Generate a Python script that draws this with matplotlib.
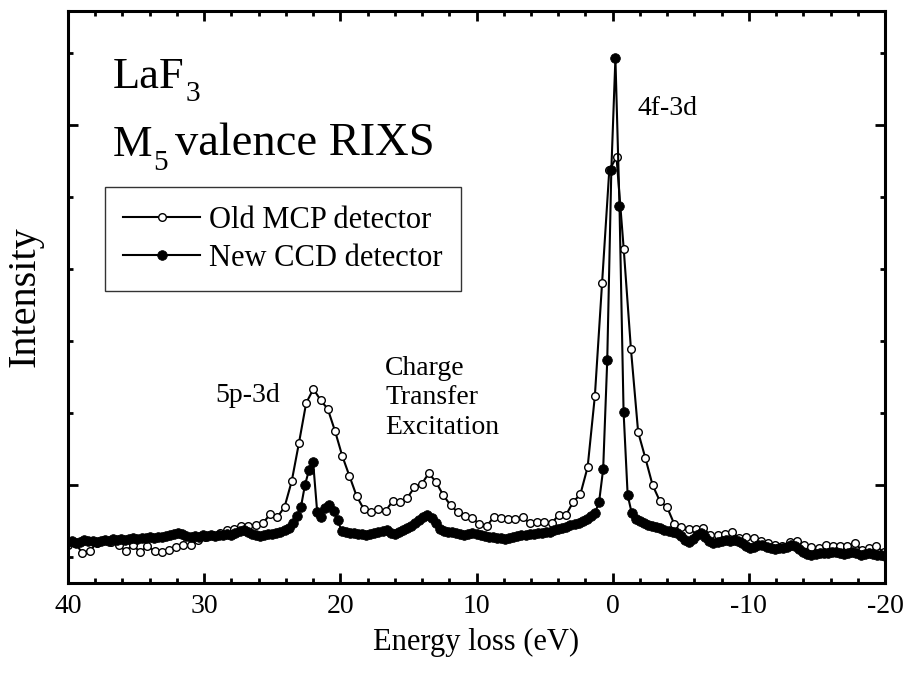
import numpy as np
import matplotlib
matplotlib.use("Agg")
import matplotlib.pyplot as plt
from matplotlib.ticker import MultipleLocator

plt.rcParams["font.family"] = ["Liberation Serif", "DejaVu Serif"]
plt.rcParams["axes.unicode_minus"] = False

# energy grids (eV), uniform steps of the two detectors
ccd_energy = np.round(40.0 - 0.3 * np.arange(201), 2)
mcp_energy = np.round(40.0 - 0.53 * np.arange(114), 2)

# new CCD detector, intensity (arb. units)
ccd_intensity = [
    842, 845, 840, 843, 847, 844, 846, 843, 845, 848,
    846, 849, 847, 850, 848, 851, 853, 850, 854, 852,
    855, 853, 857, 855, 858, 861, 864, 866, 863, 859,
    856, 858, 857, 860, 858, 861, 859, 862, 860, 863,
    861, 866, 872, 875, 869, 864, 861, 858, 861, 865,
    863, 867, 870, 874, 880, 894, 915, 938, 1000, 1042,
    1064, 925, 911, 936, 944, 928, 903, 872, 869, 867,
    866, 864, 863, 862, 864, 866, 869, 872, 875, 866,
    863, 870, 876, 881, 886, 894, 903, 911, 917, 908,
    894, 878, 872, 869, 870, 867, 864, 861, 864, 867,
    863, 861, 858, 856, 855, 853, 852, 851, 853, 856,
    858, 860, 861, 864, 864, 866, 867, 869, 870, 874,
    877, 881, 884, 889, 892, 894, 900, 906, 914, 922,
    953, 1044, 1347, 1875, 2186, 1775, 1203, 972, 922, 906,
    900, 894, 889, 886, 884, 881, 876, 872, 869, 866,
    858, 847, 843, 850, 861, 866, 856, 845, 839, 842,
    845, 847, 846, 847, 845, 840, 830, 825, 828, 834,
    833, 828, 825, 823, 825, 824, 828, 833, 830, 822,
    815, 808, 806, 808, 811, 812, 810, 813, 814, 811,
    809, 812, 814, 810, 806, 809, 812, 808, 805, 806,
    804,
]

# old MCP detector, intensity (arb. units)
mcp_intensity = [
    833, 839, 811, 817, 839, 847, 842, 833, 817, 833,
    814, 830, 817, 814, 819, 828, 833, 833, 847, 856,
    861, 867, 875, 878, 886, 886, 889, 894, 919, 911,
    939, 1011, 1117, 1228, 1267, 1236, 1211, 1150, 1081, 1025,
    969, 933, 925, 933, 928, 956, 953, 964, 994, 1003,
    1033, 1008, 972, 944, 925, 914, 908, 892, 886, 911,
    908, 906, 906, 911, 894, 897, 897, 894, 917, 917,
    953, 975, 1050, 1247, 1561, 1875, 1911, 1656, 1378, 1147,
    1075, 1000, 956, 939, 892, 883, 878, 878, 881, 861,
    861, 864, 869, 853, 856, 853, 844, 839, 833, 830,
    842, 844, 833, 828, 825, 833, 830, 830, 830, 839,
    819, 825, 830, 814,
]


def label_with_subscript(ax, x, y, head, sub, tail="", size=32):
    # big label with a low, large subscript like the original figure
    t1 = ax.text(x, y, head, transform=ax.transAxes, fontsize=size,
                 va="bottom")
    t2 = ax.annotate(sub, xy=(1, 0), xycoords=t1, xytext=(0.5, -7.5),
                     textcoords="offset points", fontsize=size * 0.66,
                     va="bottom")
    if tail:
        ax.annotate(tail, xy=(1, 0), xycoords=(t2, t1), xytext=(5, 0),
                    textcoords="offset points", fontsize=size + 1.5,
                    va="bottom")


fig = plt.figure(figsize=(9.08, 6.74), dpi=100)
ax = fig.add_axes([0.0749, 0.135, 0.8998, 0.8487])

ax.plot(mcp_energy, mcp_intensity, "-o", color="black", lw=1.5,
        ms=5.5, mfc="white", mec="black", mew=1.0,
        label="Old MCP detector")
ax.plot(ccd_energy, ccd_intensity, "-o", color="black", lw=1.5,
        ms=7, mfc="black", mec="black", mew=0.5,
        label="New CCD detector")

ax.set_xlim(40, -20)
ax.set_ylim(728, 2317)
ax.xaxis.set_major_locator(MultipleLocator(10))
ax.xaxis.set_minor_locator(MultipleLocator(2))
ax.yaxis.set_major_locator(MultipleLocator(1000))
ax.yaxis.set_minor_locator(MultipleLocator(200))
ax.tick_params(which="both", direction="in", top=True, right=True,
               width=2.0, labelsize=20, pad=8)
ax.tick_params(which="major", length=7)
ax.tick_params(which="minor", length=3.5)
ax.tick_params(axis="y", labelleft=False)
for spine in ax.spines.values():
    spine.set_linewidth(2.2)

ax.set_xlabel("Energy loss (eV)", fontsize=22, labelpad=6)
ax.set_ylabel("Intensity", fontsize=29, labelpad=10)

label_with_subscript(ax, 0.055, 0.850, "LaF", "3")
label_with_subscript(ax, 0.055, 0.730, "M", "5", "valence RIXS")

ax.text(-1.8, 2047, "4f-3d", fontsize=20, va="center")
ax.text(29.2, 1250, "5p-3d", fontsize=20, va="center")
ax.text(16.7, 1242, "Charge\nTransfer\nExcitation", fontsize=20,
        va="center", linespacing=1.25)

leg = ax.legend(loc="upper left", bbox_to_anchor=(0.0453, 0.692),
                fontsize=22, frameon=True, fancybox=False,
                handlelength=2.5, handletextpad=0.3, borderpad=0.6,
                labelspacing=0.3, borderaxespad=0)
leg.get_frame().set_edgecolor("black")
leg.get_frame().set_linewidth(1.0)

fig.savefig("out.png", dpi=100)
